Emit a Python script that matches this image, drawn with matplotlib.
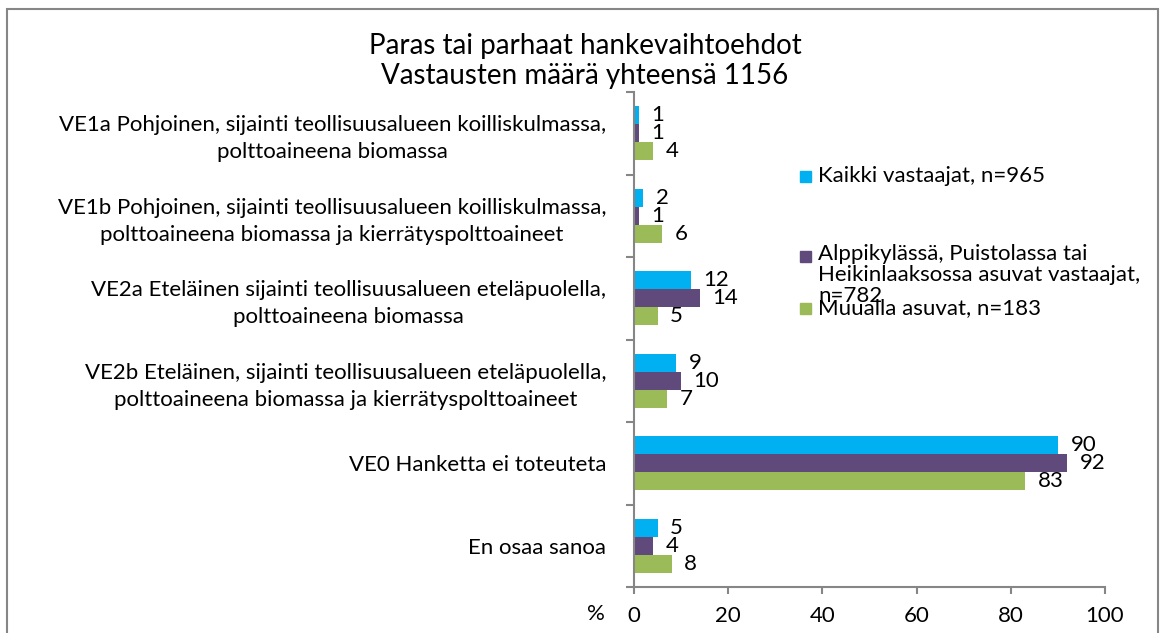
import numpy as np
import matplotlib
matplotlib.use("Agg")
import matplotlib.pyplot as plt
from matplotlib.patches import Rectangle

plt.rcParams['font.family'] = ['Lato', 'DejaVu Sans']

# Vastausvaihtoehdot (ylhäältä alas)
categories = [
    "VE1a Pohjoinen, sijainti teollisuusalueen koilliskulmassa,\npolttoaineena biomassa",
    "VE1b Pohjoinen, sijainti teollisuusalueen koilliskulmassa,\npolttoaineena biomassa ja kierrätyspolttoaineet",
    "VE2a Eteläinen sijainti teollisuusalueen eteläpuolella,\npolttoaineena biomassa",
    "VE2b Eteläinen, sijainti teollisuusalueen eteläpuolella,\npolttoaineena biomassa ja kierrätyspolttoaineet",
    "VE0 Hanketta ei toteuteta",
    "En osaa sanoa",
]

# Osuudet prosentteina
kaikki = [1, 2, 12, 9, 90, 5]
alppikyla = [1, 1, 14, 10, 92, 4]
muualla = [4, 6, 5, 7, 83, 8]

series_names = [
    "Kaikki vastaajat, n=965",
    "Alppikylässä, Puistolassa tai\nHeikinlaaksossa asuvat vastaajat,\nn=782",
    "Muualla asuvat, n=183",
]
colors = ["#00B0F0", "#604A7B", "#9BBB59"]

title = "Paras tai parhaat hankevaihtoehdot\nVastausten määrä yhteensä 1156"
xticks = [0, 20, 40, 60, 80, 100]

fs = 16
W, H = 1160, 633
fig = plt.figure(figsize=(W / 100, H / 100), dpi=100)
ax = fig.add_axes([634 / W, 1 - 587 / H, (1105 - 634) / W, (587 - 92) / H])

y = np.arange(len(categories))
h = 0.22
grey = "#868686"

for i, (vals, c) in enumerate(zip([kaikki, alppikyla, muualla], colors)):
    bars = ax.barh(y + (i - 1) * h, vals, height=h, color=c)
    for b, v in zip(bars, vals):
        ax.annotate(str(v), (b.get_width(), b.get_y() + b.get_height() / 2),
                    xytext=(9, 0), textcoords="offset points",
                    ha="left", va="center", fontsize=fs, color="black")

ax.set_xlim(0, 100)
ax.set_ylim(len(categories) - 0.5, -0.5)
ax.set_xticks(xticks)
ax.set_xticklabels([str(t) for t in xticks], fontsize=fs)
ax.set_yticks(y)
ax.set_yticklabels(categories, fontsize=fs, multialignment="center", linespacing=1.45)
ax.set_yticks(np.arange(len(categories) + 1) - 0.5, minor=True)
ax.tick_params(axis="y", which="major", length=0, pad=20)
ax.tick_params(axis="y", which="minor", length=6, width=1.5, color=grey)
ax.tick_params(axis="x", length=5, width=1.5, color=grey, pad=9)

for s in ["top", "right"]:
    ax.spines[s].set_visible(False)
for s in ["left", "bottom"]:
    ax.spines[s].set_color(grey)
    ax.spines[s].set_linewidth(1.5)

fig.text(596 / W, 1 - 614 / H, "%", ha="center", va="center", fontsize=fs)

fig.text(585 / W, 1 - 61 / H, title, ha="center", va="center",
         fontsize=20, linespacing=1.2)

# Selite: neliö ja teksti, monirivinen teksti alkaa ensimmäiseltä riviltä
legend_rows = [176, 256, 308]
for name, c, yy in zip(series_names, colors, legend_rows):
    fig.patches.append(Rectangle((800 / W, 1 - (yy + 6) / H), 11 / W, 11 / H,
                                 transform=fig.transFigure, color=c))
    if "\n" in name:
        fig.text(818 / W, 1 - (yy - 12) / H, name, ha="left", va="top",
                 fontsize=fs, linespacing=1.05)
    else:
        fig.text(818 / W, 1 - yy / H, name, ha="left", va="center", fontsize=fs)

# Kaavion kehys
fig.patches.append(Rectangle((7 / W, -0.05), 1151 / W, 1.05 - 9 / H,
                             transform=fig.transFigure, fill=False,
                             edgecolor=grey, linewidth=1.5))

fig.savefig("out.png", dpi=100)
